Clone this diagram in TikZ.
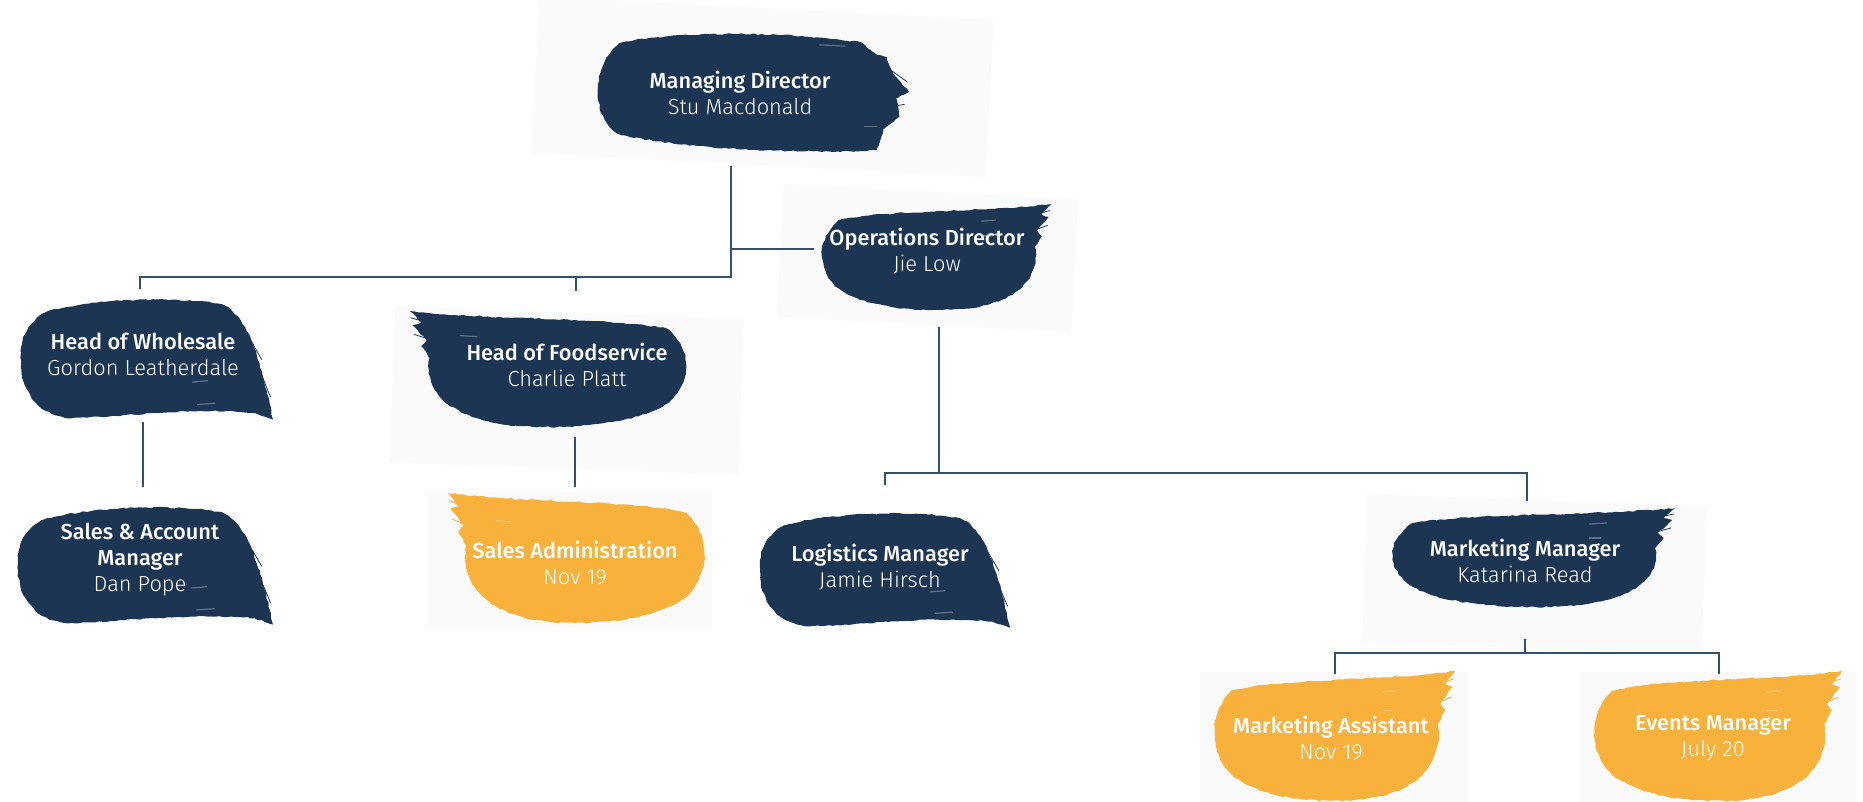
\documentclass[tikz,border=0pt]{standalone}
\usepackage{fontspec}
\setmainfont{Fira Sans}
\newfontfamily\titlefont{Fira Sans}[UprightFont={* Medium}]
\newfontfamily\namefont{Fira Sans}[UprightFont={* Light}]
\usetikzlibrary{calc,decorations.pathmorphing}
\definecolor{navy}{HTML}{1C3553}
\definecolor{amber}{HTML}{F8B13B}
\definecolor{wire}{HTML}{34506B}
\definecolor{haze}{HTML}{FAFAFA}
\tikzset{
  conn/.style={draw=wire, line width=1pt},
  lbl/.style={text=white, align=center, inner sep=0pt,
    font=\fontsize{10.9}{13}\selectfont},
  rough/.style={decorate, decoration={random steps, segment length=2pt, amplitude=0.35pt}},
  streak/.style={line width=0.4pt, line cap=round},
  speck/.style={white, line width=0.6pt, line cap=round, opacity=0.3},
}
\newcommand{\ttl}[1]{{\titlefont #1}}
\newcommand{\nm}[1]{{\namefont #1}}
% shape A: ragged tail to bottom right
\newcommand{\brushA}[5]{%
  \begin{scope}[shift={(#1,#2)}, x={({(#3-#1)*0.5pt},0pt)}, y={(0pt,{-(#4-#2)*0.5pt})}]
    \fill[#5, rough] (0.1,0.12) .. controls (0.3,0.0) and (0.65,0.0) .. (0.8,0.06)
      .. controls (0.9,0.15) and (0.95,0.5) .. (1.0,0.98)
      -- (0.93,0.93) .. controls (0.7,0.88) and (0.45,0.95) .. (0.2,0.97)
      .. controls (0.05,0.95) and (-0.01,0.7) .. (0.0,0.45)
      .. controls (0.0,0.3) and (0.04,0.18) .. (0.1,0.12) -- cycle;
    \draw[#5, streak] (0.86,0.16) -- (0.955,0.5);
    \draw[#5, streak] (0.91,0.4) -- (0.99,0.8);
    \draw[speck] (0.68,0.68) -- (0.74,0.67);
    \draw[speck] (0.7,0.86) -- (0.77,0.85);
  \end{scope}}
% shape B: ragged tip to top right
\newcommand{\brushB}[5]{%
  \begin{scope}[shift={(#1,#2)}, x={({(#3-#1)*0.5pt},0pt)}, y={(0pt,{-(#4-#2)*0.5pt})}]
    \fill[#5, rough] (0.08,0.15) .. controls (0.3,0.05) and (0.7,0.08) .. (1.0,0.0)
      -- (0.96,0.1) -- (0.99,0.12) -- (0.94,0.25) -- (0.96,0.3) -- (0.93,0.4)
      .. controls (0.95,0.65) and (0.88,0.92) .. (0.62,0.98)
      .. controls (0.4,1.02) and (0.15,0.95) .. (0.06,0.75)
      .. controls (-0.02,0.55) and (0.0,0.3) .. (0.08,0.15) -- cycle;
    \draw[#5, streak] (0.9,0.12) -- (0.995,0.06);
    \draw[#5, streak] (0.92,0.25) -- (0.985,0.2);
    \draw[speck] (0.7,0.16) -- (0.76,0.15);
    \draw[speck] (0.7,0.3) -- (0.74,0.3);
  \end{scope}}
% shape B mirrored: ragged tip to top left
\newcommand{\brushBm}[5]{%
  \begin{scope}[shift={(#3,#2)}, x={({-(#3-#1)*0.5pt},0pt)}, y={(0pt,{-(#4-#2)*0.5pt})}]
    \fill[#5, rough] (0.08,0.15) .. controls (0.3,0.05) and (0.7,0.08) .. (1.0,0.0)
      -- (0.96,0.1) -- (0.99,0.12) -- (0.94,0.25) -- (0.96,0.3) -- (0.93,0.4)
      .. controls (0.95,0.65) and (0.88,0.92) .. (0.62,0.98)
      .. controls (0.4,1.02) and (0.15,0.95) .. (0.06,0.75)
      .. controls (-0.02,0.55) and (0.0,0.3) .. (0.08,0.15) -- cycle;
    \draw[#5, streak] (0.9,0.12) -- (0.995,0.06);
    \draw[#5, streak] (0.92,0.25) -- (0.985,0.2);
    \draw[speck] (0.76,0.22) -- (0.82,0.21);
  \end{scope}}
% shape C: ragged right edge
\newcommand{\brushC}[5]{%
  \begin{scope}[shift={(#1,#2)}, x={({(#3-#1)*0.5pt},0pt)}, y={(0pt,{-(#4-#2)*0.5pt})}]
    \fill[#5, rough] (0.1,0.1) .. controls (0.3,0.0) and (0.65,0.02) .. (0.85,0.1)
      -- (0.9,0.2) -- (0.93,0.22) -- (0.95,0.35) -- (1.0,0.5) -- (0.96,0.55)
      -- (0.97,0.7) -- (0.92,0.8) -- (0.9,0.97)
      .. controls (0.6,1.0) and (0.3,0.95) .. (0.1,0.85)
      .. controls (0.0,0.75) and (0.0,0.25) .. (0.1,0.1) -- cycle;
    \draw[#5, streak] (0.93,0.3) -- (0.995,0.42);
    \draw[#5, streak] (0.94,0.62) -- (0.985,0.6);
    \draw[speck] (0.72,0.12) -- (0.8,0.13);
    \draw[speck] (0.86,0.78) -- (0.9,0.78);
  \end{scope}}
\pgfmathsetseed{7}
\begin{document}
\begin{tikzpicture}[x=0.5pt, y=-0.5pt]
\useasboundingbox (0,0) rectangle (1863,802);
\fill[white] (0,0) rectangle (1863,802);
% faint photo backgrounds
\fill[haze, rotate around={-3:(760,86)}] (535,8) rectangle (990,165);
\fill[haze, rotate around={-3:(935,258)}] (780,192) rectangle (1075,325);
\fill[haze, rotate around={-2:(550,370)}] (393,312) rectangle (742,468);
\fill[haze] (428,492) rectangle (712,628);
\fill[haze, rotate around={-2:(1530,560)}] (1365,500) rectangle (1705,648);
\fill[haze] (1200,672) rectangle (1468,802);
\fill[haze] (1580,672) rectangle (1857,802);
% brush blobs
\brushC{590}{30}{909}{154}{navy}
\brushA{21}{297}{273}{422}{navy}
\brushA{18}{505}{273}{627}{navy}
\brushA{760}{511}{1010}{630}{navy}
\brushB{820}{204}{1051}{311}{navy}
\brushB{1390}{508}{1675}{608}{navy}
\brushBm{410}{311}{689}{428}{navy}
\brushBm{448}{493}{707}{624}{amber}
\brushB{1212}{671}{1455}{802}{amber}
\brushB{1592}{671}{1842}{802}{amber}
% nodes
\node[lbl] (md)  at (740,93)   {\ttl{Managing Director}\\\nm{Stu Macdonald}};
\node[lbl] (ops) at (927,251)  {\ttl{Operations Director}\\\nm{Jie Low}};
\node[lbl] (how) at (143,354)  {\ttl{Head of Wholesale}\\\nm{Gordon Leatherdale}};
\node[lbl] (hof) at (567,365)  {\ttl{Head of Foodservice}\\\nm{Charlie Platt}};
\node[lbl] (sam) at (140,560)  {\ttl{Sales \& Account}\\\ttl{Manager}\\\nm{Dan Pope}};
\node[lbl] (sa)  at (575,563)  {\ttl{Sales Administration}\\\nm{Nov 19}};
\node[lbl] (lm)  at (880,567)  {\ttl{Logistics Manager}\\\nm{Jamie Hirsch}};
\node[lbl] (mm)  at (1525,561) {\ttl{Marketing Manager}\\\nm{Katarina Read}};
\node[lbl] (ma)  at (1331,738) {\ttl{Marketing Assistant}\\\nm{Nov 19}};
\node[lbl] (em)  at (1713,738) {\ttl{Events Manager}\\\nm{July 20}};
% connectors
\coordinate (b1) at ($(md)+(-9,184)$);
\coordinate (b2) at ($(ops)+(12,222)$);
\coordinate (b3) at ($(mm)+(0,92)$);
\draw[conn] ($(md)+(-9,73)$) -- (b1) -| ($(how)+(-3,-65)$);
\draw[conn] (b1) -| ($(hof)+(9,-74)$);
\draw[conn] ($(md)+(-9,156)$) -- ($(ops)+(-113,-2)$);
\draw[conn] ($(how)+(0,68)$) -- ($(sam)+(3,-73)$);
\draw[conn] ($(hof)+(8,72)$) -- ($(sa)+(0,-76)$);
\draw[conn] ($(ops)+(12,76)$) -- (b2) -| ($(lm)+(5,-82)$);
\draw[conn] (b2) -| ($(mm)+(2,-60)$);
\draw[conn] ($(mm)+(0,78)$) -- (b3) -| ($(ma)+(4,-64)$);
\draw[conn] (b3) -| ($(em)+(6,-64)$);
\end{tikzpicture}
\end{document}
